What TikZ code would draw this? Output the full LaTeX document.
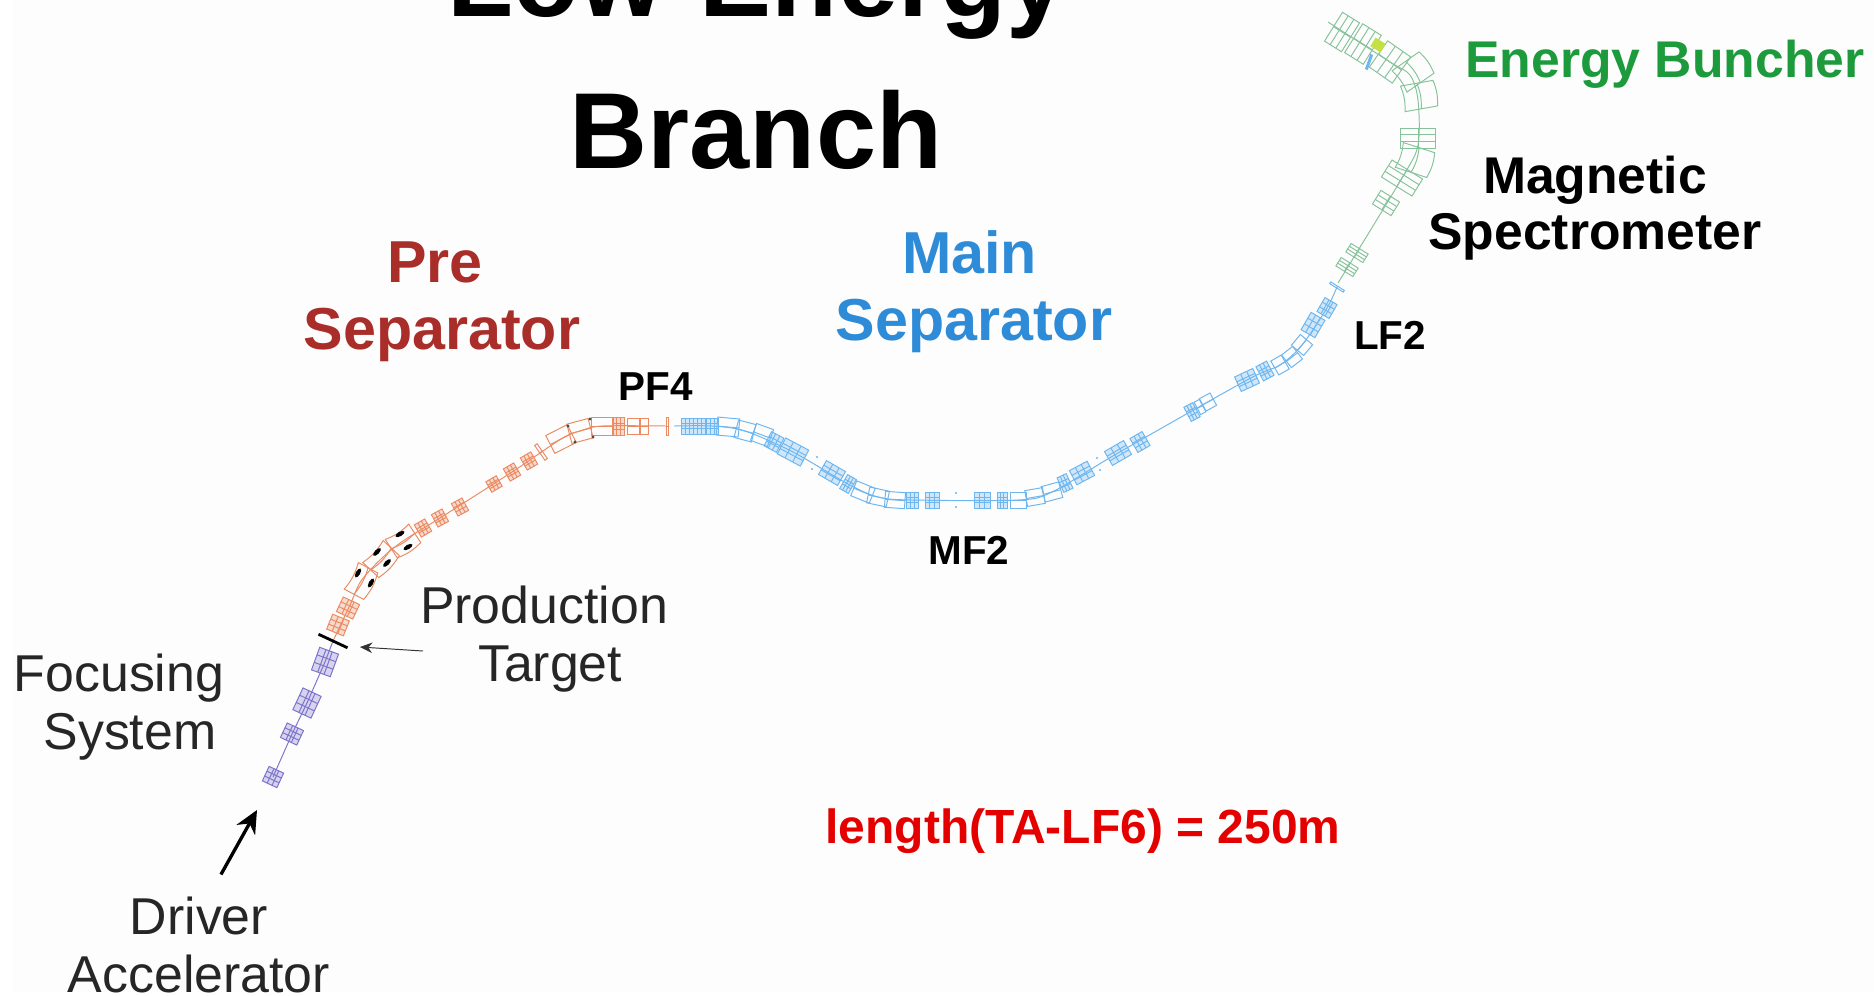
\documentclass[tikz,border=0pt]{standalone}
\usepackage{fontspec}
\setmainfont{Liberation Sans}
\usetikzlibrary{arrows.meta}
\definecolor{pagebg}{HTML}{FDFDFD}
\definecolor{preorange}{HTML}{EC8A62}
\definecolor{mainblue}{HTML}{6DB6F0}
\definecolor{focuspurple}{HTML}{7C72CC}
\definecolor{specgreen}{HTML}{86C29A}
\definecolor{prered}{HTML}{A92E29}
\definecolor{sepblue}{HTML}{2E8BD8}
\definecolor{bunchgreen}{HTML}{1C9A3C}
\tikzset{
  pics/qblock/.style n args={2}{code={
    \fill[opacity=0.3] (-#1,-#2) rectangle (#1,#2);
    \draw (-#1,-#2) rectangle (#1,#2);
    \draw (-#1/3,-#2) -- (-#1/3,#2) (#1/3,-#2) -- (#1/3,#2);
    \draw (-#1,-#2/3) -- (#1,-#2/3) (-#1,#2/3) -- (#1,#2/3);
  }},
  pics/dblock/.style n args={2}{code={
    \draw (-#1,-#2) rectangle (#1,#2);
    \draw (-#1,0) -- (#1,0);
  }},
  pics/bentblock/.style n args={3}{code={
    \draw (-#1,-#2) to[bend left=#3] (#1,-#2) -- (#1,#2) to[bend right=#3] (-#1,#2) -- cycle;
    \draw (-#1,0) to[bend left=#3] (#1,0);
  }},
  pics/plateblock/.style n args={2}{code={
    \draw (-#1,-#2) rectangle (#1,#2);
    \draw (-#1/3,-#2) -- (-#1/3,#2) (#1/3,-#2) -- (#1/3,#2);
    \draw (-#1,0) -- (#1,0);
  }}
}
\begin{document}
\begin{tikzpicture}[x=0.02cm, y=-0.02cm, >=stealth, line width=0.55pt,
    titlelabel/.style={font=\bfseries\fontsize{61.5}{61.5}\selectfont, text=black, anchor=base},
    seplabel/.style={font=\bfseries\fontsize{33.7}{38}\selectfont, align=center},
    speclabel/.style={font=\bfseries\fontsize{29.4}{32}\selectfont, align=center},
    pointlabel/.style={font=\bfseries\fontsize{23}{26}\selectfont},
    plainlabel/.style={font=\fontsize{29.5}{33.4}\selectfont, text=black!85, align=center}]
    \useasboundingbox (0,0) rectangle (1874,995);
    \fill[pagebg] (13,0) rectangle (1874,992);

    % focusing system
    \begin{scope}[focuspurple]
        \draw (273,777) -- (292,734) -- (307,703) -- (325,662) -- (333,641);
        \foreach \x/\y/\ang/\len/\wid in {273/777/65/8/8, 292/734/65/8/9, 307/703/65/12/10, 325/662/70/12/10}
            \pic[rotate=\ang] at (\x,\y) {qblock={\len}{\wid}};
    \end{scope}

    % pre separator
    \begin{scope}[preorange]
        \draw plot[smooth] coordinates {(333,641) (350,605) (361,581) (381,559) (403,541) (440,518) (512,472) (561,439) (580,431) (602,426) (667,426)};
        \foreach \x/\y/\ang/\len/\wid in {338/625/68/8/9, 348/608/65/8/9, 423/528/30/6/7, 440/518/28/6/7, 460/507/28/6/7, 494/484/30/6/6, 512/472/30/6/7, 529/461/30/6/7, 618/426/0/6/9}
            \pic[rotate=\ang] at (\x,\y) {qblock={\len}{\wid}};
        \foreach \x/\y/\ang/\len/\wid in {561/439/27/12/10, 580/431/15/11/10, 602/426/0/11/9, 633/426/0/6/8, 644/426/0/4/8, 541/452/35/1.5/9, 667/426/0/1/9}
            \pic[rotate=\ang] at (\x,\y) {dblock={\len}{\wid}};
        \foreach \x/\y/\ang/\len in {361/581/62/15, 381/559/47/15, 403/541/33/14}
            \pic[rotate=\ang] at (\x,\y) {bentblock={\len}{11}{-12}};
    \end{scope}
    \foreach \x/\y/\ang in {358/573/60, 371/583/60, 377/552/45, 387/563/45, 400/534/30, 408/547/30}
        \fill[rotate around={\ang:(\x,\y)}] (\x,\y) ellipse [x radius=5, y radius=2.2];
    \foreach \x/\y in {568/426, 575/442, 590/419, 593/437}
        \fill[black!70] (\x,\y) circle [radius=1.6];

    % main separator
    \begin{scope}[mainblue]
        \draw plot[smooth] coordinates {(674,426) (712,426) (745,431) (793,452) (848,484) (878,497) (912,500) (1018,500) (1052,492) (1118,453) (1247,380) (1280,365) (1302,345) (1327,308) (1337,287)};
        \foreach \x/\y/\ang/\len/\wid in {687/426/0/6/8, 699/426/0/6/8, 712/426/0/6/8, 774/442/-28/7/8, 793/452/-28/13/9, 832/473/-30/11/8, 848/484/-30/5/8, 912/500/0/6/8, 932/500/0/7/8, 982/500/0/8/8, 1002/500/0/5/8, 1065/483/25/5/8, 1082/473/28/10/8, 1118/453/30/11/8, 1140/442/30/7/8, 1192/412/28/5/8, 1247/380/25/10/8, 1265/371/28/6/8, 1313/325/60/10/8, 1327/308/60/8/7}
            \pic[rotate=\ang] at (\x,\y) {qblock={\len}{\wid}};
        \foreach \x/\y/\ang/\len/\wid in {728/427/-5/11/9, 745/431/-15/9/9, 762/435/-20/9/9, 863/492/-22/10/8, 878/497/-12/10/8, 895/500/-4/10/8, 1018/500/0/8/8, 1035/497/10/9/8, 1052/492/15/9/8, 1200/407/28/3/7, 1208/402/28/6/7, 1280/365/30/6/8, 1292/357/38/7/8, 1302/345/50/7/8, 1337/287/58/1/8}
            \pic[rotate=\ang] at (\x,\y) {dblock={\len}{\wid}};
        \foreach \x/\y in {817/457, 812/469, 956/493, 956/507, 1097/458, 1100/470}
            \fill (\x,\y) circle [radius=1.2];
    \end{scope}

    % magnetic spectrometer and energy buncher
    \begin{scope}[specgreen]
        \draw plot[smooth] coordinates {(1338,283) (1402,178) (1418,145) (1418,100) (1410,75) (1390,62) (1328,22)};
        \foreach \x/\y/\ang/\len/\wid in {1347/267/58/5/10, 1357/253/58/5/10, 1386/203/58/8/11, 1402/178/58/10/18, 1418/138/90/10/17.5, 1390/62/-35/14/16, 1363/44/-32/11/17, 1342/32/-32/10/17}
            \pic[rotate=\ang] at (\x,\y) {plateblock={\len}{\wid}};
        \foreach \x/\y/\ang/\bend in {1415/160/72/-12, 1419/96/100/-12, 1413/72/125/-12}
            \pic[rotate=\ang] at (\x,\y) {bentblock={13}{16.5}{\bend}};
        \fill[yellow!70!green!80!white, rotate around={-32:(1378,45)}] (1372,40) rectangle (1384,50);
        \fill[mainblue, rotate around={70:(1369,62)}] (1361,60.5) rectangle (1377,63.5);
    \end{scope}

    % target and arrows
    \node[fill=black, rotate=-25, minimum width=0.64cm, minimum height=1.6pt, inner sep=0pt] (tbar) at (333,641) {};
    \coordinate (tail) at (423,651);
    \coordinate (tip) at (360,647);
    \draw[-{Stealth[length=7pt,width=6pt]}, black!80] (tail) -- (tip);

    \begin{scope}
        \clip (13,0) rectangle (1874,992);
        \node[titlelabel] (lowenergy) at (757,16) {Low-Energy};
        \node[titlelabel] (branch) at (756,168) {Branch};
        \node[plainlabel] (driver) at (199,945) {Driver\\Accelerator};
        \coordinate (beamin) at (257,810);
        \draw[-{Stealth[length=13pt,width=12pt]}, line width=1.9pt, black] ([xshift=12.5pt, yshift=9pt]driver.north) -- (beamin);
    \end{scope}

    \node[seplabel, text=prered] (presep) at (442,302) {Pre\hspace*{8pt}\\Separator};
    \node[seplabel, text=sepblue] (mainsep) at (974,292) {Main\hspace*{5pt}\\Separator};
    \node[speclabel, text=bunchgreen] (buncher) at (1665,64) {Energy Buncher};
    \node[speclabel, text=black] (magspec) at (1595,208) {Magnetic\\Spectrometer};
    \node[pointlabel] (pf) at (656,387) {PF4};
    \node[pointlabel] (mf) at (969,550) {MF2};
    \node[pointlabel] (lf) at (1390,335) {LF2};
    \node[plainlabel] (prodtarget) at (544,639) {Production\\\hspace*{7pt}Target};
    \node[plainlabel] (focusing) at (119,707) {Focusing\\\hspace*{12.5pt}System};
    \node[font=\bfseries\fontsize{27.3}{30}\selectfont, text=red!90!black] (length) at (1083,831) {length(TA-LF6) = 250m};
\end{tikzpicture}
\end{document}
